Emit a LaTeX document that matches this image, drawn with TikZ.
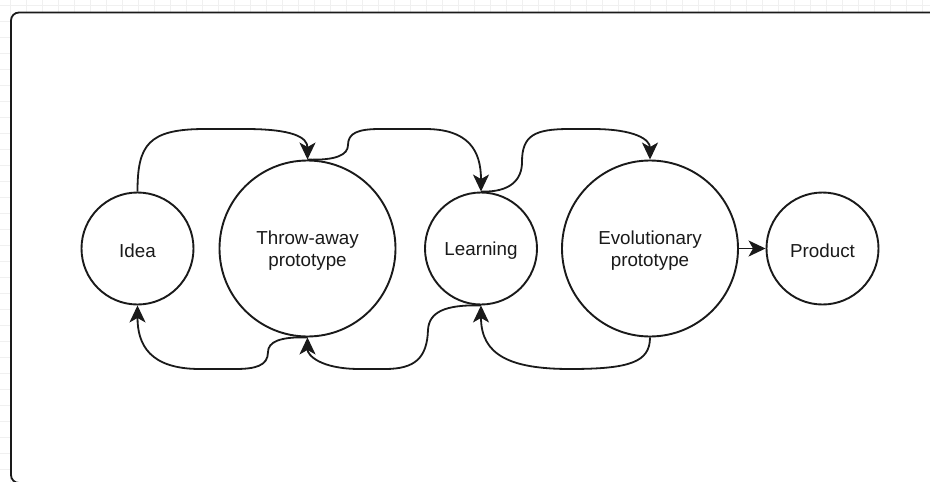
\documentclass[tikz,border=0pt]{standalone}
\usepackage{fontspec}
\setmainfont{Liberation Sans}
\usetikzlibrary{arrows.meta}
\definecolor{ink}{HTML}{1A1A1A}
\definecolor{gridminor}{HTML}{F0F0F0}
\begin{document}
\begin{tikzpicture}[x=1pt,y=-1pt,
  stage/.style={circle, draw=ink, line width=1.9pt, inner sep=0pt},
  small/.style={stage, minimum size=112pt},
  large/.style={stage, minimum size=176pt},
  caption/.style={align=center, inner sep=0pt, yshift=-2pt,
    font=\fontsize{18.8}{21.5}\selectfont, text=ink},
  flow/.style={draw=ink, line width=1.8pt,
    -{Stealth[length=17pt, width=16pt, inset=4.5pt]}}
]
\useasboundingbox (0,0) rectangle (930,482);

% background grid
\foreach \gx in {0,...,58} {
  \pgfmathsetmacro{\xx}{10.5+16*\gx}
  \draw[gridminor, line width=0.8pt] (\xx,0) -- (\xx,482);
}
\foreach \gy in {0,...,30} {
  \pgfmathsetmacro{\yy}{5+16*\gy}
  \draw[gridminor, line width=0.8pt] (0,\yy) -- (930,\yy);
}

% canvas frame
\draw[ink, line width=1.8pt, fill=white, rounded corners=8pt] (11,12.5) rectangle (945,483);

% stages
\node[small] (idea)  at (137.5,248.5) {};
\node[large] (throw) at (307.5,248.5) {};
\node[small] (learn) at (481,248.5) {};
\node[large] (evo)   at (650,248.5) {};
\node[small] (prod)  at (822.5,248.5) {};

\node[caption] (ideaT)  at (idea)  {Idea};
\node[caption] (throwT) at (throw) {Throw-away\\prototype};
\node[caption] (learnT) at (learn) {Learning};
\node[caption] (evoT)   at (evo)   {Evolutionary\\prototype};
\node[caption] (prodT)  at (prod)  {Product};

% forward loops over the top
\draw[flow] (idea.north) .. controls (137.5,145) and (148,129) .. (205,129)
  -- (245,129) .. controls (292,129) and (307.5,137) .. (throw.north);
\draw[flow] (throw.north) .. controls (336,160.5) and (348,155) .. (348,145)
  .. controls (348,133) and (358,129) .. (380,129)
  -- (425,129) .. controls (468,129) and (481,150) .. (learn.north);
\draw[flow] (learn.north) .. controls (510,192.5) and (522,180) .. (522,162)
  .. controls (522,135) and (535,129) .. (570,129)
  -- (592,129) .. controls (636,129) and (650,140) .. (evo.north);

% feedback loops underneath
\draw[flow] (throw.south) .. controls (280,336.5) and (268,342) .. (268,352)
  .. controls (268,366) and (255,369) .. (235,369)
  -- (200,369) .. controls (150,369) and (137.5,345) .. (idea.south);
\draw[flow] (learn.south) .. controls (445,304.5) and (429,312) .. (428,330)
  .. controls (427,358) and (415,369) .. (385,369)
  -- (360,369) .. controls (320,369) and (307.5,355) .. (throw.south);
\draw[flow] (evo.south) .. controls (650,362) and (630,369) .. (570,369)
  .. controls (510,369) and (481,355) .. (learn.south);

% release
\draw[flow] (evo.east) -- (prod.west);
\end{tikzpicture}
\end{document}
